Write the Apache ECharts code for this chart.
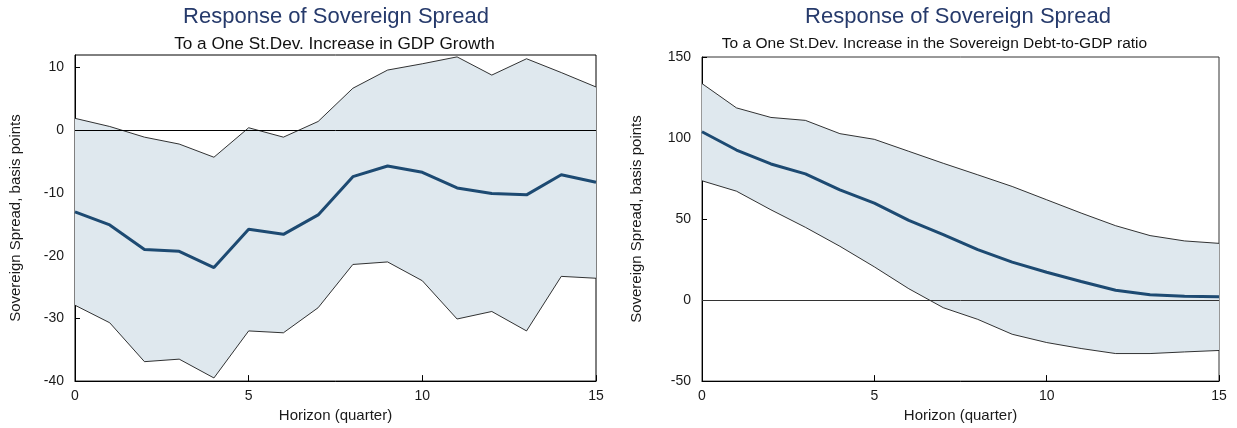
<!DOCTYPE html>
<html>
<head>
<meta charset="utf-8">
<script src="https://cdn.jsdelivr.net/npm/echarts@6/dist/echarts.min.js"></script>
<style>
  html, body { margin: 0; padding: 0; background: #fff; }
  #chart { width: 1237px; height: 428px; }
</style>
</head>
<body>
<div id="chart"></div>
<script>
// Horizon in quarters
const horizon = [0, 1, 2, 3, 4, 5, 6, 7, 8, 9, 10, 11, 12, 13, 14, 15];

// Response to GDP growth shock (basis points)
const gdpMedian = [-13.0, -15.1, -19.0, -19.3, -21.9, -15.8, -16.6, -13.5, -7.4, -5.7, -6.7, -9.2, -10.1, -10.3, -7.1, -8.3];
const gdpUpper  = [1.9, 0.6, -1.1, -2.2, -4.3, 0.4, -1.1, 1.4, 6.7, 9.6, 10.6, 11.7, 8.8, 11.4, 9.2, 6.9];
const gdpLower  = [-27.9, -30.7, -36.9, -36.5, -39.5, -32.0, -32.3, -28.3, -21.4, -21.0, -24.0, -30.1, -28.9, -32.0, -23.3, -23.6];

// Response to sovereign debt-to-GDP shock (basis points)
const debtMedian = [103.9, 92.6, 84.0, 77.9, 68.0, 59.8, 49.2, 40.4, 31.1, 23.4, 17.2, 11.5, 6.1, 3.3, 2.3, 2.0];
const debtUpper  = [133.6, 118.6, 112.7, 110.9, 102.7, 99.2, 91.8, 84.4, 77.3, 70.1, 61.9, 53.7, 45.9, 39.8, 36.5, 35.0];
const debtLower  = [73.6, 67.2, 55.7, 44.9, 33.2, 20.5, 7.0, -4.7, -11.9, -21.1, -26.2, -29.9, -33.0, -33.0, -32.0, -31.1];

// Titles
const mainTitle = 'Response of Sovereign Spread';
const subTitles = ['To a One St.Dev. Increase in GDP Growth', 'To a One St.Dev. Increase in the Sovereign Debt-to-GDP ratio'];
const yName = 'Sovereign Spread, basis points';
const xName = 'Horizon (quarter)';

const FONT = '"Liberation Sans", Arial, sans-serif';
const TITLE_COLOR = '#263a6b';
const BAND = '#dfe8ee';
const MEDIAN = '#1d4a72';
const TEXT = '#1a1a1a';

const pairs = (arr) => arr.map((v, i) => [horizon[i], v]);

function bandSeries(idx, upper, lower) {
  return {
    type: 'custom',
    xAxisIndex: idx, yAxisIndex: idx,
    silent: true,
    z: 1,
    data: [[horizon[0], upper[0]]],
    renderItem: function (params, api) {
      const pts = [];
      for (let i = 0; i < horizon.length; i++) pts.push(api.coord([horizon[i], upper[i]]));
      for (let i = horizon.length - 1; i >= 0; i--) pts.push(api.coord([horizon[i], lower[i]]));
      return { type: 'polygon', shape: { points: pts }, style: { fill: BAND, stroke: null } };
    }
  };
}

function boundSeries(idx, arr, withZero, zeroColor) {
  const s = {
    type: 'line', xAxisIndex: idx, yAxisIndex: idx,
    data: pairs(arr), symbol: 'none', silent: true, z: 2,
    lineStyle: { color: '#000', width: 0.8 }
  };
  if (withZero) {
    s.markLine = {
      silent: true, symbol: ['none', 'none'], label: { show: false },
      lineStyle: { color: zeroColor, width: 1, type: 'solid' },
      data: [{ yAxis: 0 }]
    };
  }
  return s;
}

function medianSeries(idx, arr) {
  return {
    type: 'line', xAxisIndex: idx, yAxisIndex: idx,
    data: pairs(arr), symbol: 'none', silent: true, z: 3,
    lineStyle: { color: MEDIAN, width: 3 }
  };
}

function xAxis(idx) {
  return {
    type: 'value', gridIndex: idx, min: 0, max: 15, interval: 5,
    name: xName, nameLocation: 'middle', nameGap: 24,
    nameTextStyle: { fontFamily: FONT, fontSize: 15, color: TEXT },
    axisLine: { show: true, onZero: false, lineStyle: { color: '#000', width: 1 } },
    axisTick: { show: true, inside: true, length: 6, lineStyle: { color: '#000' } },
    axisLabel: { fontFamily: FONT, fontSize: 14, color: TEXT, margin: 8 },
    splitLine: { show: false }
  };
}

function yAxis(idx, min, max, interval, gap) {
  return {
    type: 'value', gridIndex: idx, min: min, max: max, interval: interval,
    name: yName, nameLocation: 'middle', nameGap: gap,
    nameTextStyle: { fontFamily: FONT, fontSize: 15, color: TEXT },
    axisLine: { show: true, onZero: false, lineStyle: { color: '#000', width: 1 } },
    axisTick: { show: true, inside: true, length: 5, lineStyle: { color: '#000' } },
    axisLabel: { fontFamily: FONT, fontSize: 14, color: TEXT, margin: 11 },
    splitLine: { show: false }
  };
}

function titleText(x, y, text, size, color) {
  return {
    type: 'text', x: x, y: y, silent: true,
    style: { text: text, fill: color, font: size + 'px ' + FONT, textAlign: 'center', textVerticalAlign: 'middle' }
  };
}

const chart = echarts.init(document.getElementById('chart'), null, { renderer: 'canvas' });
chart.setOption({
  animation: false,
  backgroundColor: '#fff',
  grid: [
    { left: 75, right: 641, top: 55, bottom: 46, show: true, borderColor: '#000', borderWidth: 1, backgroundColor: 'transparent' },
    { left: 702, right: 18, top: 57, bottom: 46, show: true, borderColor: '#333', borderWidth: 1, backgroundColor: 'transparent' }
  ],
  xAxis: [xAxis(0), xAxis(1)],
  yAxis: [yAxis(0, -40, 12, 10, 52), yAxis(1, -50, 150, 50, 58)],
  graphic: [
    titleText(336, 16.5, mainTitle, 22, TITLE_COLOR),
    titleText(334.5, 44, subTitles[0], 17.2, '#111'),
    titleText(958, 16.5, mainTitle, 22, TITLE_COLOR),
    titleText(934.5, 44, subTitles[1], 15.5, '#111')
  ],
  series: [
    bandSeries(0, gdpUpper, gdpLower),
    boundSeries(0, gdpLower, true, '#000'),
    boundSeries(0, gdpUpper, false),
    medianSeries(0, gdpMedian),
    bandSeries(1, debtUpper, debtLower),
    boundSeries(1, debtLower, true, '#333'),
    boundSeries(1, debtUpper, false),
    medianSeries(1, debtMedian)
  ]
});
</script>
</body>
</html>
